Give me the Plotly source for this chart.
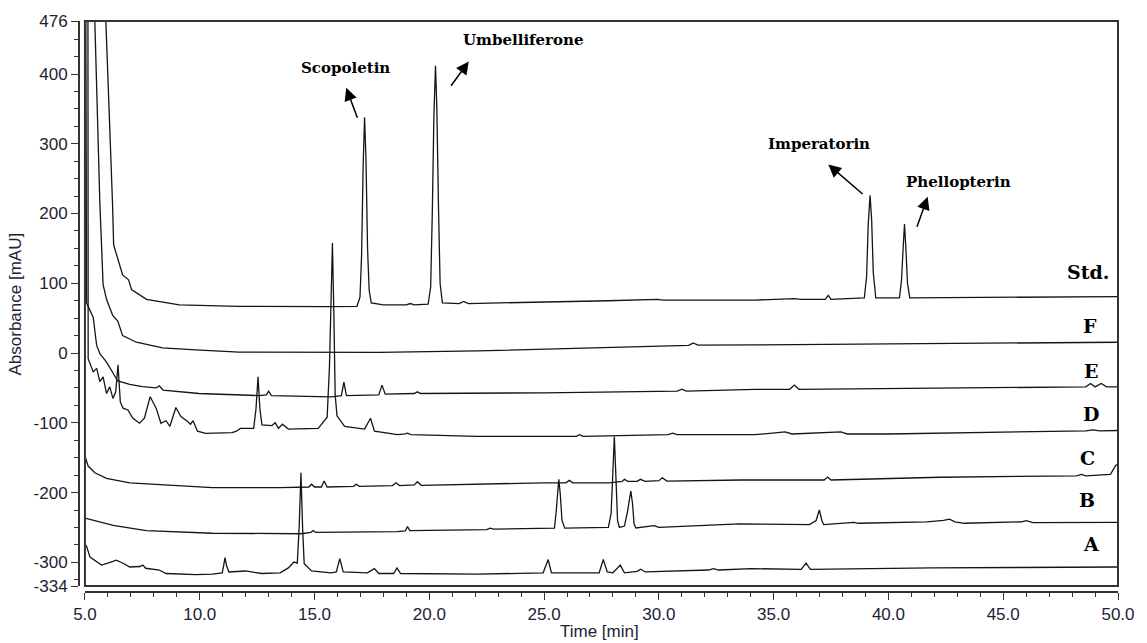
import plotly.graph_objects as go

# ---------------- data (time [min], absorbance [mAU], offsets as drawn) ----------------
std_t = [5.5, 5.91, 6.20, 6.25, 6.64, 6.90, 7.03, 7.68, 9.11, 11.7, 15.7, 16.85, 16.98, 17.05, 17.12,
         17.18, 17.24, 17.31, 17.38, 17.47, 18.0, 19.0, 19.17, 19.35, 19.95, 20.06, 20.13, 20.2, 20.27,
         20.33, 20.4, 20.47, 20.57, 21.3, 21.5, 21.7, 27.8, 29.93, 30.2, 34.2, 35.9, 36.2, 37.25, 37.38,
         37.5, 38.8, 38.95, 39.05, 39.12, 39.2, 39.27, 39.34, 39.45, 40.48, 40.57, 40.64, 40.70, 40.76,
         40.83, 40.93, 50.0]
std_v = [1000, 476, 215, 155, 112, 105, 91, 77, 69, 67, 66.5, 67, 80, 140, 270,
         338, 280, 150, 90, 72, 69, 69, 71, 69, 70, 95, 200, 340, 412,
         350, 210, 100, 72, 71, 74, 71, 75, 77, 76, 76, 78, 77, 77, 82.7,
         77, 78, 79, 110, 185, 226, 190, 115, 79, 79, 105, 150, 185, 150,
         100, 79, 81]

f_t = [5.2, 5.43, 5.65, 5.79, 5.94, 6.21, 6.43, 6.5, 6.64, 7.24, 8.38, 9.83, 11.7, 17.8, 22.1,
       31.3, 31.5, 31.7, 34.2, 50.0]
f_v = [1000, 476, 214, 98, 77, 54, 46, 40, 25, 15.5, 7.4, 4.5, 1.3, 1, 3,
       11, 14.5, 11.3, 11.7, 15.5]

e_t = [5.0, 5.07, 5.36, 5.43, 5.51, 5.65, 5.94, 6.43, 6.95, 7.5, 8.1, 8.24, 8.4, 9.97, 12.57,
       12.9, 13.0, 13.12, 15.72, 16.17, 16.28, 16.39, 17.8, 17.94, 18.08, 19.35, 19.48, 19.62,
       24.96, 30.8, 31.0, 31.2, 34.2, 35.7, 35.9, 36.1, 42.8, 48.6, 48.8, 49.0, 49.27, 49.5, 50.0]
e_v = [1000, 72, 51, 34, 11, -1, -13, -40, -45, -48, -50, -47, -53, -58, -61,
       -60, -54.6, -61, -62.7, -61, -41.5, -61, -60, -46, -59, -58, -55.6, -58,
       -57, -54.5, -51.7, -54.5, -52, -52, -46, -52, -50, -48.5, -43.7, -48.5, -43.7, -48.5, -48.5]

d_t = [5.12, 5.14, 5.36, 5.51, 5.65, 5.79, 5.94, 6.08, 6.22, 6.34, 6.44, 6.54, 6.66, 6.87, 7.09,
       7.38, 7.59, 7.84, 8.1, 8.31, 8.53, 8.7, 8.96, 9.18, 9.47, 9.6, 9.71, 9.9, 10.26, 11.41,
       11.6, 11.77, 12.35, 12.45, 12.54, 12.62, 12.71, 13.14, 13.29, 13.43, 13.6, 13.86, 15.16,
       15.55, 15.65, 15.72, 15.78, 15.84, 15.9, 15.98, 16.31, 17.18, 17.35, 17.44, 17.61, 18.62,
       18.95, 19.05, 19.2, 22.08, 26.4, 26.55, 26.7, 30.4, 30.6, 30.8, 34.2, 35.5, 35.8, 37.93,
       38.2, 40.0, 48.6, 48.9, 49.2, 50.0]
d_v = [1000, -8, -27, -22, -41, -34, -58, -48.5, -65, -55.6, -16.8, -70, -79, -81.6, -93.5,
       -100.6, -93.5, -62.7, -79, -100.6, -97, -105, -78, -91, -98, -102, -97, -112, -115, -114,
       -112, -108, -108, -80, -34, -80, -103, -104, -100, -108, -102, -109, -108,
       -92, -20, 100, 157.6, 60, -60, -90, -105, -109, -100, -93.5, -112, -117,
       -116, -114.8, -117, -119.5, -119.5, -117, -119.5, -117, -114.8, -117, -117, -113, -116, -113,
       -116, -116, -111.5, -110, -111.5, -111]

c_t = [5.0, 5.14, 5.43, 5.94, 6.95, 8.39, 10.55, 13.5, 14.75, 14.87, 15.0, 15.3, 15.42, 15.55,
       16.7, 16.82, 16.95, 18.4, 18.55, 18.7, 19.35, 19.48, 19.65, 24.96, 25.95, 26.1, 26.25,
       27.84, 28.4, 28.5, 28.65, 29.05, 29.2, 29.4, 30.0, 30.15, 30.35, 33.6, 37.2, 37.35, 37.5,
       42.25, 45.7, 48.2, 48.4, 48.6, 49.67, 49.9, 50.0]
c_v = [-148, -162, -171.7, -179.6, -186, -189, -193, -193, -192, -188, -192, -192, -183.5, -192,
       -191, -188, -191, -190, -186, -190, -189, -184.5, -189.6, -186, -186, -182.5, -186,
       -186, -184, -181, -184, -184, -181, -184, -183, -178.8, -183.5, -182, -182, -177.8, -182,
       -178, -176.4, -176, -174, -176, -174, -161, -159]

b_t = [5.0, 6.23, 7.67, 10.55, 14.4, 14.85, 14.94, 15.05, 18.6, 18.95, 19.05, 19.15, 22.5, 22.65,
       22.8, 25.45, 25.52, 25.58, 25.64, 25.7, 25.78, 25.9, 27.8, 27.92, 28.0, 28.06, 28.12, 28.2,
       28.28, 28.5, 28.62, 28.72, 28.78, 28.85, 28.92, 29.0, 29.6, 29.79, 30.0, 33.5, 36.56, 36.85,
       36.99, 37.1, 37.18, 38.3, 38.5, 38.7, 41.67, 42.4, 42.66, 42.9, 43.3, 45.8, 46.0, 46.3, 50.0]
b_v = [-236.5, -247, -254.5, -258.3, -259, -257, -254.5, -257, -256, -255, -248.8, -254.5, -253, -251,
       -252.5, -251, -230, -200, -181, -200, -240, -251, -250, -230, -170, -119.5, -170, -240,
       -250, -248, -230, -205, -197.7, -215, -245, -250.7, -249, -247.4, -250, -245, -246, -240,
       -225, -240, -246, -244, -242.7, -244, -242, -240, -238, -242, -244, -242, -240.3, -243, -242.7]

a_t = [5.0, 5.08, 5.22, 5.72, 6.1, 6.37, 6.7, 6.95, 7.4, 7.52, 7.65, 8.24, 8.53, 9.83, 10.55,
       10.98, 11.04, 11.1, 11.17, 11.27, 11.99, 12.7, 13.5, 13.86, 14.1, 14.25, 14.33, 14.41, 14.48,
       14.55, 14.87, 15.72, 15.95, 16.1, 16.25, 17.3, 17.61, 17.8, 18.45, 18.59, 18.75, 22.08, 24.96,
       25.18, 25.32, 27.4, 27.58, 27.75, 28.0, 28.32, 28.5, 29.05, 29.21, 29.4, 32.16, 32.38, 32.6,
       34.03, 36.2, 36.41, 36.6, 38.5, 41.9, 50.0]
a_v = [-273.4, -278, -292.5, -304, -300, -297, -302, -306.7, -306, -304, -308.5, -311, -316, -317.5, -317,
       -315, -305, -293.3, -305, -313.8, -312.4, -316, -315, -308, -299.6, -301, -250, -171.7, -250,
       -302, -312.4, -315, -313.8, -294.7, -313.8, -315, -309, -316, -316, -308, -316, -317, -315,
       -296, -315, -315, -296, -313.8, -315, -304, -315, -313, -310, -313.8, -311, -309, -311,
       -309, -310, -301, -310, -309, -308, -306.7]

trace_names = ["Std.", "F", "E", "D", "C", "B", "A"]
trace_data = [(std_t, std_v), (f_t, f_v), (e_t, e_v), (d_t, d_v), (c_t, c_v), (b_t, b_v), (a_t, a_v)]

# label positions (time, mAU)
label_t = [48.69, 48.80, 48.84, 48.84, 48.69, 48.67, 48.82]
label_v = [116.3, 38.2, -25.4, -87.8, -150.3, -210.8, -273.4]

# compound annotations: text position, arrow tail, arrow head
compounds = ["Scopoletin", "Umbelliferone", "Imperatorin", "Phellopterin"]
comp_text_t = [16.37, 24.07, 36.99, 43.07]
comp_text_v = [408.7, 448.9, 299.7, 245.3]
arrow_tail_t = [16.89, 20.90, 38.94, 41.22]
arrow_tail_v = [335.2, 381.1, 226.2, 178.9]
arrow_head_t = [16.38, 21.72, 37.38, 41.71]
arrow_head_v = [380.3, 418.1, 270.3, 224.0]

x_ticks = [5, 10, 15, 20, 25, 30, 35, 40, 45, 50]
x_ticktext = ["5.0", "10.0", "15.0", "20.0", "25.0", "30.0", "35.0", "40.0", "45.0", "50.0"]
y_ticks = [-334, -300, -200, -100, 0, 100, 200, 300, 400, 476]
y_ticktext = ["-334", "-300", "-200", "-100", "0", "100", "200", "300", "400", "476"]

# ---------------- layout geometry ----------------
W, H = 1147, 643
ML, MR, MT, MB = 79, 21, 16, 51
PW, PH = W - ML - MR, H - MT - MB
GAP = 6

fig = go.Figure()
for name, (t, v) in zip(trace_names, trace_data):
    fig.add_trace(go.Scatter(x=t, y=v, mode="lines", name=name,
                             line=dict(color="#151515", width=1.3),
                             hoverinfo="skip"))

axis_color = "#333333"
tick_font = dict(family="Liberation Sans, Arial, sans-serif", size=17, color="#222233")

fig.update_layout(
    width=W, height=H,
    margin=dict(l=ML, r=MR, t=MT, b=MB),
    paper_bgcolor="white", plot_bgcolor="white",
    showlegend=False,
    xaxis=dict(domain=[GAP / PW, 1], range=[5, 50], anchor="free", position=0,
               showline=True, linecolor=axis_color, linewidth=2,
               ticks="outside", ticklen=7, tickwidth=1, tickcolor=axis_color,
               tickmode="array", tickvals=x_ticks, ticktext=x_ticktext,
               minor=dict(ticks="outside", ticklen=4, tickwidth=1, tickcolor=axis_color,
                          tick0=0, dtick=1, showgrid=False),
               showgrid=False, zeroline=False, tickfont=tick_font),
    yaxis=dict(domain=[GAP / PH, 1], range=[-334, 476], anchor="free", position=0,
               showline=True, linecolor=axis_color, linewidth=2,
               ticks="outside", ticklen=7, tickwidth=1, tickcolor=axis_color,
               tickmode="array", tickvals=y_ticks, ticktext=y_ticktext,
               minor=dict(ticks="outside", ticklen=4, tickwidth=1, tickcolor=axis_color,
                          tick0=0, dtick=25, showgrid=False),
               showgrid=False, zeroline=False, tickfont=tick_font),
)

# plot frame
fig.add_shape(type="rect", xref="x domain", yref="y domain", x0=0, x1=1, y0=0, y1=1,
              line=dict(color=axis_color, width=2), layer="above")

label_font = dict(family="DejaVu Serif, Liberation Serif, serif", size=19, color="black", weight="bold")
for name, lt, lv in zip(trace_names, label_t, label_v):
    fig.add_annotation(x=lt, y=lv, xref="x", yref="y", text=name, showarrow=False,
                       font=label_font, xanchor="center", yanchor="middle")

comp_font = dict(family="DejaVu Serif, Liberation Serif, serif", size=15, color="black", weight="bold")
for name, tt, tv, at, av, ht, hv in zip(compounds, comp_text_t, comp_text_v,
                                        arrow_tail_t, arrow_tail_v, arrow_head_t, arrow_head_v):
    fig.add_annotation(x=tt, y=tv, xref="x", yref="y", text=name, showarrow=False,
                       font=comp_font, xanchor="center", yanchor="middle")
    fig.add_annotation(x=ht, y=hv, xref="x", yref="y", ax=at, ay=av, axref="x", ayref="y",
                       text="", showarrow=True, arrowhead=2, arrowsize=1.7, arrowwidth=1.5,
                       arrowcolor="black", standoff=0, startstandoff=0)

title_font = dict(family="Liberation Sans, Arial, sans-serif", size=17, color="#222233")
fig.add_annotation(x=(604 - ML) / PW, y=(MT + PH - 632) / PH, xref="paper", yref="paper",
                   text="Time [min]", showarrow=False, font=title_font,
                   xanchor="center", yanchor="middle")
fig.add_annotation(x=(15.5 - ML) / PW, y=(MT + PH - 301) / PH, xref="paper", yref="paper",
                   text="Absorbance [mAU]", showarrow=False, font=title_font, textangle=-90,
                   xanchor="center", yanchor="middle")

fig.write_html(
    "out.html",
    config={"displayModeBar": False},
    post_script="document.documentElement.style.margin='0';document.body.style.margin='0';"
                "document.body.style.overflow='hidden';",
)
